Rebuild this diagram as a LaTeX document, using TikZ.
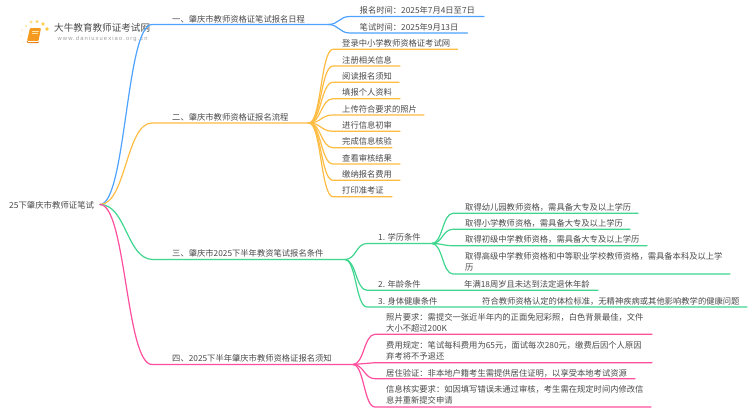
\documentclass[tikz,border=0pt]{standalone}
\usepackage{fontspec}
\setmainfont{Noto Sans CJK SC}
\newfontfamily\latinfont[LetterSpace=19]{Liberation Sans}
\usetikzlibrary{calc}
\definecolor{cblue}{HTML}{4DA3FF}
\definecolor{corange}{HTML}{FFBC42}
\definecolor{cgreen}{HTML}{3FD68F}
\definecolor{cpink}{HTML}{FF4F9E}
\definecolor{ctext}{HTML}{4A4A4A}
\definecolor{bookmain}{HTML}{F59A1E}
\definecolor{bookdark}{HTML}{E8821A}
\definecolor{booklight}{HTML}{FFE3A8}
\tikzset{
  txt/.style={anchor=west,inner sep=0pt,yshift=-0.7pt,text=ctext,align=left,font=\fontsize{8.3}{11}\selectfont},
  conn/.style={line width=1.2pt,line cap=round}
}
% #1 name, #2 junction, #3 colour, #4 start x, #5 end x, #6 line y, #7 text x, #8 text y, #9 text
\newcommand\leafnode[9]{%
  \coordinate (#1-s) at (#4,#6);
  \coordinate (#1-e) at (#5,#6);
  \node[txt] (#1) at (#7,#8) {#9};
  \draw[conn,#3] (#2) .. controls ($(#2)!0.5!(#1-s |- #2)$) and ($(#1-s)!0.5!(#2 |- #1-s)$) .. (#1-s) -- (#1-e);
}
\begin{document}
\begin{tikzpicture}[x=1pt,y=-1pt]
\useasboundingbox[fill=white] (0,0) rectangle (750,410);
% logo
\foreach \px/\py/\r/\c in {31/22/1.6/FFE08A,37/21.5/1.7/FFD46A,43/24/1.8/FFCE55,47/29/1.9/FFC640,26/26/1.3/FFEBB5,22/30/1.1/FFEFC8,21/36/1/FFF3D6,23/42/0.9/FFF5E0}{
  \definecolor{dc}{HTML}{\c}
  \fill[dc] (\px,\py) circle (\r);
}
\fill[bookmain,rounded corners=1pt] (30,28) -- (41,28) -- (38.5,41) -- (27,41) -- cycle;
\fill[bookdark,rounded corners=0.8pt] (27,41) -- (38.5,41) -- (39,43) -- (28,43) -- (26.5,42) -- cycle;
\draw[white,line width=0.5pt] (27.8,41.2) -- (37.8,41.2);
\draw[booklight,line width=0.6pt] (32,31) -- (38.5,31) (31.6,33.5) -- (38,33.5);
\node[anchor=west,inner sep=0pt,yshift=-0.7pt,text=ctext,font=\fontsize{9.6}{11}\selectfont] (title) at (54,27) {大牛教育教师证考试网};
\node[anchor=west,inner sep=0pt,text=black!38,font=\latinfont\fontsize{5.8}{7}\selectfont] (site) at (57.5,39) {www.daniuxuexiao.org.cn};
% root
\node[anchor=west,inner sep=0pt,yshift=-0.7pt,text=ctext,font=\fontsize{8.4}{11}\selectfont] (root) at (9,205) {25下肇庆市教师证笔试};
\coordinate (r) at (100,204.5);
% branch 1
\leafnode{b1}{r}{cblue}{152}{328}{24.5}{172}{18.5}{一、肇庆市教师资格证笔试报名日程}
\coordinate (j1) at (328,24.5);
\leafnode{a1}{j1}{cblue}{350}{484}{16.5}{359.5}{10}{报名时间：2025年7月4日至7日}
\leafnode{a2}{j1}{cblue}{350}{467.5}{33}{359.5}{26.3}{笔试时间：2025年9月13日}
% branch 2
\leafnode{b2}{r}{corange}{152}{309}{123}{172}{116.5}{二、肇庆市教师资格证报名流程}
\coordinate (j2) at (309,123);
\leafnode{c1}{j2}{corange}{333}{457.5}{49.3}{342}{43}{登录中小学教师资格证考试网}
\leafnode{c2}{j2}{corange}{333}{400}{66}{342}{59.3}{注册相关信息}
\leafnode{c3}{j2}{corange}{333}{399}{82.3}{342}{75.7}{阅读报名须知}
\leafnode{c4}{j2}{corange}{333}{400}{98.7}{342}{92}{填报个人资料}
\leafnode{c5}{j2}{corange}{333}{424}{115}{342}{108.3}{上传符合要求的照片}
\leafnode{c6}{j2}{corange}{333}{400}{131.3}{342}{124.7}{进行信息初审}
\leafnode{c7}{j2}{corange}{333}{392}{147.7}{342}{141}{完成信息核验}
\leafnode{c8}{j2}{corange}{333}{400}{164}{342}{157.3}{查看审核结果}
\leafnode{c9}{j2}{corange}{333}{400}{180.3}{342}{173.7}{缴纳报名费用}
\leafnode{c10}{j2}{corange}{333}{392}{196.7}{342}{190}{打印准考证}
% branch 3
\leafnode{b3}{r}{cgreen}{153}{345}{259.5}{172}{253}{三、肇庆市2025下半年教资笔试报名条件}
\coordinate (j3) at (345,259.5);
\leafnode{d1}{j3}{cgreen}{367}{432}{243.5}{378}{237}{1. 学历条件}
\leafnode{d2}{j3}{cgreen}{367}{598}{290.3}{378}{283.7}{2. 年龄条件}
\leafnode{d3}{j3}{cgreen}{367}{747}{307}{378}{300.3}{3. 身体健康条件}
\node[txt] (d2t) at (464,283.7) {年满18周岁且未达到法定退休年龄};
\node[txt] (d3t) at (482,300.3) {符合教师资格认定的体检标准，无精神疾病或其他影响教学的健康问题};
\coordinate (j4) at (432,243.5);
\leafnode{e1}{j4}{cgreen}{453}{638}{213.3}{465}{206.7}{取得幼儿园教师资格，需具备大专及以上学历}
\leafnode{e2}{j4}{cgreen}{453}{630}{229.3}{465}{223}{取得小学教师资格，需具备大专及以上学历}
\leafnode{e3}{j4}{cgreen}{453}{647}{245.7}{465}{239}{取得初级中学教师资格，需具备大专及以上学历}
\leafnode{e4}{j4}{cgreen}{453}{730}{274}{465}{261.2}{取得高级中学教师资格和中等职业学校教师资格，需具备本科及以上学\\历}
% branch 4
\leafnode{b4}{r}{cpink}{152}{353}{364.5}{172}{358}{四、2025下半年肇庆市教师资格证报名须知}
\coordinate (j5) at (353,364.5);
\leafnode{f1}{j5}{cpink}{375}{652}{334.3}{386}{322}{照片要求：需提交一张近半年内的正面免冠彩照，白色背景最佳，文件\\大小不超过200K}
\leafnode{f2}{j5}{cpink}{375}{652}{362.7}{386}{349.8}{费用规定：笔试每科费用为65元，面试每次280元，缴费后因个人原因\\弃考将不予退还}
\leafnode{f3}{j5}{cpink}{375}{635}{378.7}{386}{372.3}{居住验证：非本地户籍考生需提供居住证明，以享受本地考试资源}
\leafnode{f4}{j5}{cpink}{375}{651}{407}{386}{394}{信息核实要求：如因填写错误未通过审核，考生需在规定时间内修改信\\息并重新提交申请}
\end{tikzpicture}
\end{document}
